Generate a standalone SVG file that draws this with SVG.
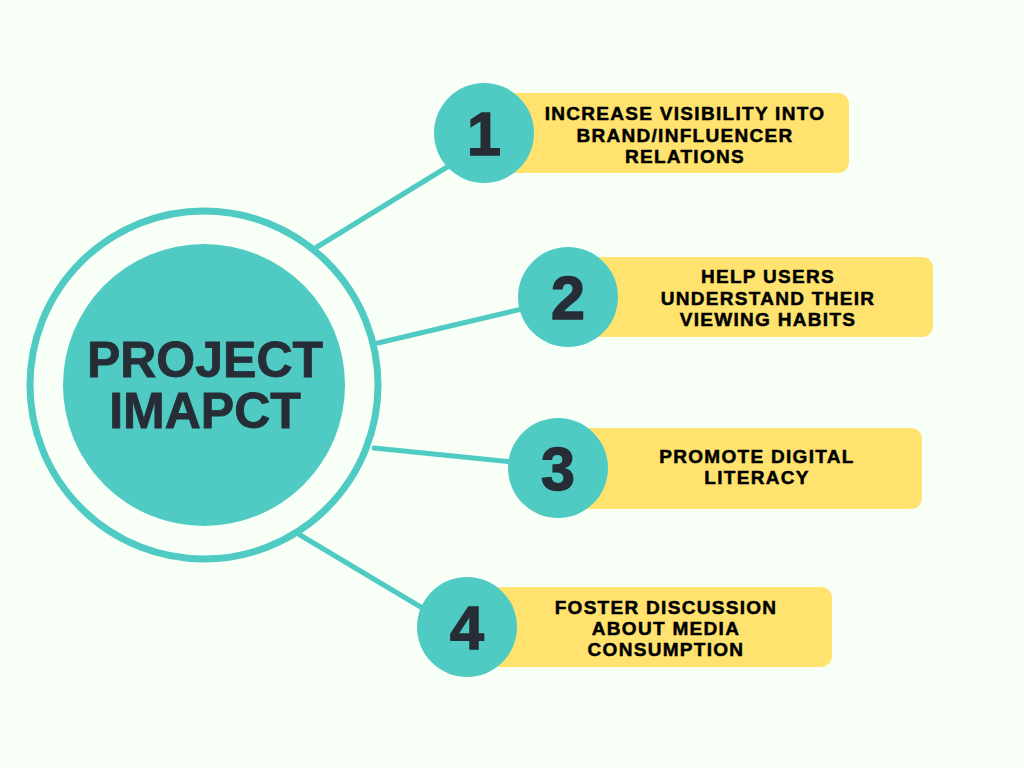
<svg xmlns="http://www.w3.org/2000/svg" width="1024" height="768" viewBox="0 0 1024 768">
<style>
.bg{fill:#F7FFF7}
.conn{stroke:#4FCBC3;stroke-width:5;fill:none;stroke-linecap:round}
.ring{fill:none;stroke:#4FCBC3;stroke-width:7}
.teal{fill:#4FCBC3}
.box{fill:#FFE36E}
.num{font-family:"Liberation Sans",Arial,sans-serif;font-weight:bold;font-size:61px;fill:#262D36;stroke:#262D36;stroke-width:1.5;text-anchor:middle}
.lbl{font-family:"Liberation Sans",Arial,sans-serif;font-weight:bold;font-size:19px;letter-spacing:1.3px;fill:#000;stroke:#000;stroke-width:0.5;text-anchor:middle}
.title{font-family:"Liberation Sans",Arial,sans-serif;font-weight:bold;font-size:50px;fill:#262D36;stroke:#262D36;stroke-width:0.8;text-anchor:middle}
</style>
<rect class="bg" x="0" y="0" width="1024" height="768"/>
<g id="connectors">
<line class="conn" x1="317" y1="247" x2="452" y2="164"/>
<line class="conn" x1="378" y1="343" x2="522" y2="309"/>
<line class="conn" x1="374" y1="448" x2="512" y2="462"/>
<line class="conn" x1="300" y1="535" x2="424" y2="609"/>
</g>
<g id="center">
<circle class="ring" cx="204" cy="385" r="174"/>
<circle class="teal" cx="204" cy="385" r="141"/>
<text class="title" x="205" y="377">PROJECT</text>
<text class="title" x="205" y="428">IMAPCT</text>
</g>
<g id="item1">
<rect class="box" x="484" y="93" width="365" height="80" rx="11"/>
<circle class="teal" cx="484" cy="133" r="50"/>
<text class="num" x="484" y="155">1</text>
<text class="lbl" x="685" y="120">INCREASE VISIBILITY INTO</text>
<text class="lbl" x="685" y="142">BRAND/INFLUENCER</text>
<text class="lbl" x="685" y="163">RELATIONS</text>
</g>
<g id="item2">
<rect class="box" x="568" y="257" width="365" height="80" rx="11"/>
<circle class="teal" cx="568" cy="297" r="50"/>
<text class="num" x="568" y="319">2</text>
<text class="lbl" x="768" y="283">HELP USERS</text>
<text class="lbl" x="768" y="305">UNDERSTAND THEIR</text>
<text class="lbl" x="768" y="326">VIEWING HABITS</text>
</g>
<g id="item3">
<rect class="box" x="558" y="428" width="364" height="81" rx="11"/>
<circle class="teal" cx="558" cy="468" r="50"/>
<text class="num" x="558" y="490">3</text>
<text class="lbl" x="757" y="463">PROMOTE DIGITAL</text>
<text class="lbl" x="757" y="484">LITERACY</text>
</g>
<g id="item4">
<rect class="box" x="467" y="587" width="365" height="80" rx="11"/>
<circle class="teal" cx="467" cy="627" r="50"/>
<text class="num" x="467" y="649">4</text>
<text class="lbl" x="666" y="614">FOSTER DISCUSSION</text>
<text class="lbl" x="666" y="635">ABOUT MEDIA</text>
<text class="lbl" x="666" y="656">CONSUMPTION</text>
</g>
</svg>
